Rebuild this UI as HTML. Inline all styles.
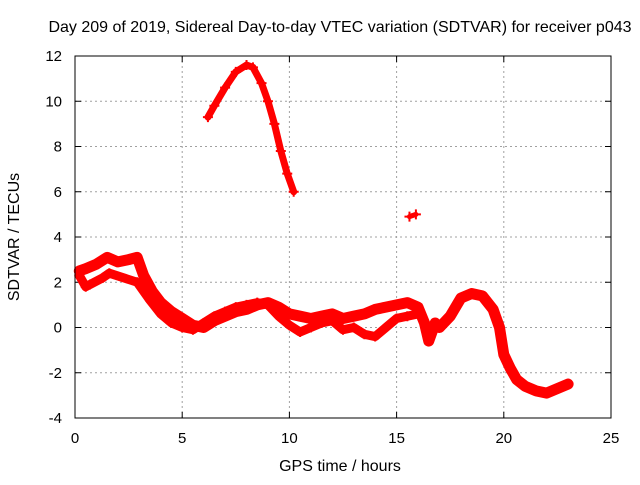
<!DOCTYPE html>
<html><head><meta charset="utf-8"><style>
body{margin:0;background:#fff}
svg text{font-family:"Liberation Sans",sans-serif;font-size:16px;fill:#000}
svg text.tk{font-size:15px}
</style></head><body>
<svg id="c" width="640" height="480">
<text x="340" y="32" text-anchor="middle">Day 209 of 2019, Sidereal Day-to-day VTEC variation (SDTVAR) for receiver p043</text>
<text x="340" y="471" text-anchor="middle">GPS time / hours</text>
<text transform="translate(19,237) rotate(-90)" text-anchor="middle">SDTVAR / TECUs</text>
<g id="grid"></g><g id="ticks"></g><g id="series"></g>
<rect x="75" y="56" width="536" height="362" fill="none" stroke="#000" stroke-width="1"/>
</svg>
<script>
const xTicks=[0,5,10,15,20,25];
const yTicks=[-4,-2,0,2,4,6,8,10,12];
const mainX=[0.2,0.5,1,1.5,2,2.5,2.9,3.2,3.6,4,4.5,5,5.5,6,6.5,7,7.5,8,8.5,9,9.5,10,10.5,11,11.5,12,12.5,13,13.5,14,14.5,15,15.5,16,16.3,16.5,16.8,17,17.5,18,18.5,19,19.5,19.8,20,20.3,20.6,21,21.5,22,22.5,23];
const mainY=[2.5,2.6,2.8,3.1,2.9,3.0,3.1,2.3,1.6,1.1,0.7,0.4,0.1,0.0,0.3,0.5,0.7,0.8,1.0,1.1,0.9,0.6,0.5,0.4,0.5,0.6,0.4,0.5,0.6,0.8,0.9,1.0,1.1,0.9,0.2,-0.6,0.2,0.0,0.5,1.3,1.5,1.4,0.8,0.0,-1.2,-1.8,-2.3,-2.6,-2.8,-2.9,-2.7,-2.5];
const lowX=[0.2,0.5,0.7,1.3,1.6,2.9,3.5,4,4.5,5,5.5,6,6.5,7,7.5,8,8.5,9,9.5,10,10.5,11,11.5,12,12.5,13,13.5,14,14.5,15,15.5,16];
const lowY=[2.3,1.8,1.9,2.2,2.4,2.0,1.2,0.6,0.2,0.0,-0.1,0.2,0.5,0.7,0.9,1.0,1.1,1.0,0.5,0.1,-0.2,0.0,0.2,0.3,-0.1,0.0,-0.3,-0.4,0.0,0.4,0.5,0.6];
const humpX=[6.2,6.5,7,7.5,8,8.3,8.7,9,9.3,9.6,9.9,10.2];
const humpY=[9.3,9.8,10.6,11.3,11.6,11.5,10.8,10.0,9.0,7.8,6.8,6.0];
const blipX=[15.6,15.9];
const blipY=[4.9,5.0];
const NS="http://www.w3.org/2000/svg";
const sx=v=>75+v*536/25, sy=v=>418-(v+4)*362/16;
const g=document.getElementById('grid'),t=document.getElementById('ticks'),s=document.getElementById('series');
function mk(tag,a,p){const e=document.createElementNS(NS,tag);for(const k in a)e.setAttribute(k,a[k]);p.appendChild(e);return e;}
xTicks.forEach(v=>{const x=sx(v);
 if(v>0&&v<25){const l=mk('line',{x1:x,x2:x,y1:56,y2:418,stroke:'#a0a0a0','stroke-dasharray':'2,3'},g);
 
 
 const m=mk('path',{d:`M${x},418v-6M${x},56v6`,stroke:'#000'},g);
 
 }
 const tx=mk('text',{x:x,y:443,'text-anchor':'middle','class':'tk'},t);tx.textContent=v;
 
 
});
yTicks.forEach(v=>{const y=sy(v);
 if(v>-4&&v<12){const l=mk('line',{x1:75,x2:611,y1:y,y2:y,stroke:'#a0a0a0','stroke-dasharray':'2,3'},g);
 
 
 const m=mk('path',{d:`M75,${y}h6M611,${y}h-6`,stroke:'#000'},g);
 
 }
 const tx=mk('text',{x:62,y:y+5,'text-anchor':'end','class':'tk'},t);tx.textContent=v;
 
 
});
function series(X,Y,w,name){
 const pts=X.map((x,i)=>sx(x)+','+sy(Y[i])).join(' ');
 const p=mk('polyline',{points:pts,fill:'none',stroke:'#f00','stroke-width':w,'stroke-linejoin':'round','stroke-linecap':'round'},s);
 
 
 X.forEach((x,i)=>{const cx=sx(x),cy=sy(Y[i]);
  const m=mk('path',{d:`M${cx-5},${cy}H${cx+5}M${cx},${cy-5}V${cy+5}`,stroke:'#f00','stroke-width':2},s);
  
  });
}
series(mainX,mainY,11,'sdtvar-main-trace');
series(lowX,lowY,9,'sdtvar-lower-trace');
series(humpX,humpY,7,'sdtvar-hump-trace');
series(blipX,blipY,5,'sdtvar-blip-trace');
</script>
</body></html>
